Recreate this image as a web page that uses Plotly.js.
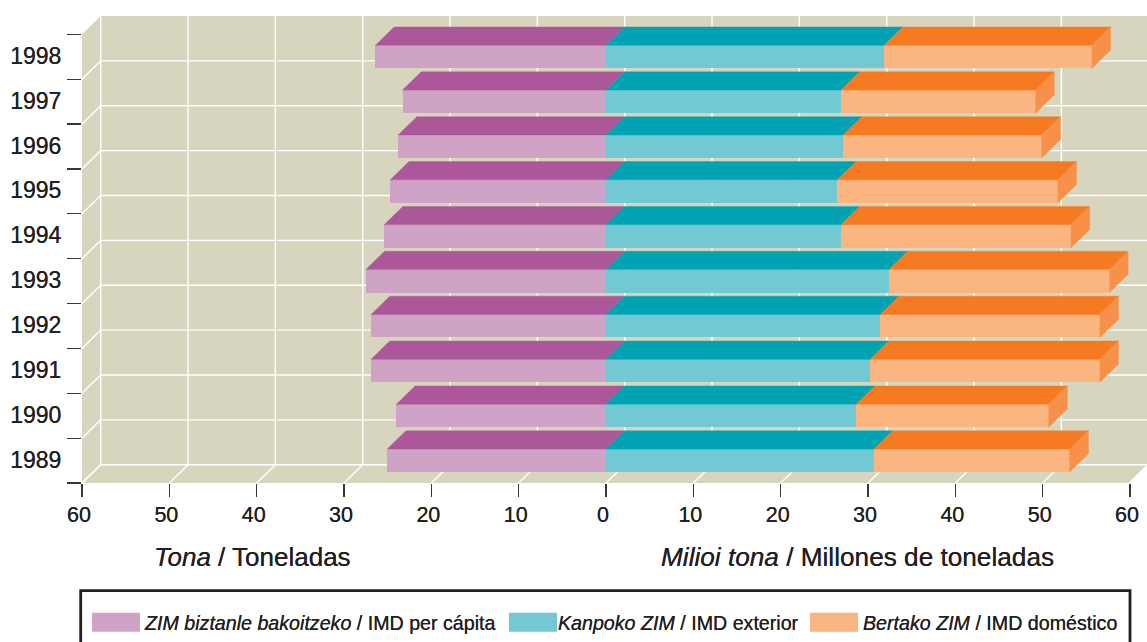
<!DOCTYPE html>
<html>
<head>
<meta charset="utf-8">
<script src="https://cdn.plot.ly/plotly-3.0.1.min.js"></script>
<style>html,body{margin:0;padding:0;background:#fff;overflow:hidden}#chart{width:1147px;height:642px}</style>
</head>
<body>
<div id="chart"></div>
<script>
// Yearly material consumption, 1989-1998, oldest year at the bottom.
const years = ['1989','1990','1991','1992','1993','1994','1995','1996','1997','1998'];
const perCapita = [25.05, 24.0, 26.9, 26.9, 27.5, 25.4, 24.7, 23.8, 23.3, 26.4];
const exterior  = [30.7, 28.65, 30.25, 31.4, 32.4, 26.9, 26.5, 27.15, 26.9, 31.85];
const domestic  = [22.4, 22.05, 26.3, 25.15, 25.25, 26.35, 25.25, 22.75, 22.3, 23.8];
const xTicks = [-60,-50,-40,-30,-20,-10,0,10,20,30,40,50,60];
const xTickLabels = ['60','50','40','30','20','10','0','10','20','30','40','50','60'];

const seriesLabels = [
  '<i>ZIM biztanle bakoitzeko</i> / IMD per cápita',
  '<i>Kanpoko ZIM</i> / IMD exterior',
  '<i>Bertako ZIM</i> / IMD doméstico'
];
const leftTitle = '<i>Tona</i> / Toneladas';
const rightTitle = '<i>Milioi tona</i> / Millones de toneladas';

const colors = {
  wall: '#d8d5bf', grid: '#ffffff', ink: '#231f20',
  pinkFront: '#cfa3c6', pinkTop: '#ab5799',
  tealFront: '#72c8d3', tealTop: '#00a3b2',
  orangeFront: '#fbb581', orangeTop: '#f57a22', orangeSide: '#f79149'
};
// Slight thickening of the text strokes, for a medium-weight look.
const textWeight = '0 0 0.6px #231f20';

// Page geometry of the plotting box.
const W = 1147, H = 642;
const M = {l: 82, r: 0, t: 16, b: 159};
const plotW = W - M.l - M.r, plotH = H - M.t - M.b;
const unitPx = (1130 - 82) / 120;           // pixels per x unit
const xMin = -60, xMax = xMin + plotW / unitPx;

// Oblique projection: depth offsets, in axis units.
const DEPTH_PX_Y = 18.3, DEPTH_X = 18.7 / unitPx;
const yPitch = (plotH - DEPTH_PX_Y) / years.length;
const DEPTH_Y = DEPTH_PX_Y / yPitch;
const BAR_H = 23 / yPitch;
const yMin = -0.5, yTop = years.length - 0.5, yMax = yTop + DEPTH_Y;

const yIdx = years.map((_, i) => i);
const bounds = years.map((_, i) => i - 0.5).concat([yTop]);

// Converters from page pixels to paper fractions, for the key below the plot.
const px = v => (v - M.l) / plotW;
const py = v => (H - M.b - v) / plotH;

// Builds the slanted top face of each bar segment as one filled polygon trace.
function topFace(starts, ends, color) {
  const xs = [], ys = [];
  yIdx.forEach(i => {
    const f = i + BAR_H / 2;
    xs.push(starts[i], ends[i], ends[i] + DEPTH_X, starts[i] + DEPTH_X, starts[i], null);
    ys.push(f, f, f + DEPTH_Y, f + DEPTH_Y, f, null);
  });
  return {type: 'scatter', mode: 'lines', x: xs, y: ys, fill: 'toself', fillcolor: color,
          line: {color: color, width: 0.4}, hoverinfo: 'skip'};
}
// Right-hand end cap of the stack.
function sideFace(ends, color) {
  const xs = [], ys = [];
  yIdx.forEach(i => {
    const f = i + BAR_H / 2, b = i - BAR_H / 2;
    xs.push(ends[i], ends[i] + DEPTH_X, ends[i] + DEPTH_X, ends[i], ends[i], null);
    ys.push(f, f + DEPTH_Y, b + DEPTH_Y, b, f, null);
  });
  return {type: 'scatter', mode: 'lines', x: xs, y: ys, fill: 'toself', fillcolor: color,
          line: {color: color, width: 0.4}, hoverinfo: 'skip'};
}
function frontBar(values, color) {
  return {type: 'bar', orientation: 'h', y: yIdx, x: values, width: BAR_H,
          marker: {color: color, line: {width: 0}}, hoverinfo: 'skip'};
}

const zeros = years.map(() => 0);
const left = perCapita.map(v => -v);
const total = exterior.map((v, i) => v + domestic[i]);

const traces = [
  frontBar(left, colors.pinkFront),
  frontBar(exterior, colors.tealFront),
  frontBar(domestic, colors.orangeFront),
  topFace(left, zeros, colors.pinkTop),
  topFace(zeros, exterior, colors.tealTop),
  topFace(exterior, total, colors.orangeTop),
  sideFace(total, colors.orangeSide)
];

// Box walls and their white rules, all in axis units.
const wallFill = {fillcolor: colors.wall, line: {width: 0}, layer: 'below', xref: 'x', yref: 'y'};
const rule = (x0, y0, x1, y1) => ({type: 'line', x0, y0, x1, y1, xref: 'x', yref: 'y', layer: 'below',
                                   line: {color: colors.grid, width: 1.4}});
const xl = xTicks[0], xb = xl + DEPTH_X, yb = yMin + DEPTH_Y;
const shapes = [
  Object.assign({type: 'rect', x0: xb, x1: xMax, y0: yb, y1: yMax}, wallFill),
  Object.assign({type: 'path', path: `M${xl},${yMin} L${xl},${yTop} L${xb},${yMax} L${xb},${yb} Z`}, wallFill),
  Object.assign({type: 'path', path: `M${xl},${yMin} L${xb},${yb} L${xMax},${yb} L${xMax - DEPTH_X},${yMin} Z`}, wallFill)
];
xTicks.forEach(t => {
  shapes.push(rule(t, yMin, t + DEPTH_X, yb));
  shapes.push(rule(t + DEPTH_X, yb, t + DEPTH_X, yMax));
});
bounds.slice(0, -1).forEach(b => {
  shapes.push(rule(xl, b, xb, b + DEPTH_Y));
  shapes.push(rule(xb, b + DEPTH_Y, xMax, b + DEPTH_Y));
});

// Key frame: its lower edge runs off the page.
shapes.push({type: 'rect', xref: 'paper', yref: 'paper', x0: px(80.7), x1: px(1130), y0: py(660), y1: py(590.7),
             line: {color: colors.ink, width: 2.8}, fillcolor: 'rgba(0,0,0,0)', layer: 'above'});

const swatchX = [92, 509, 810];
const labelX = [141.5, 556, 860.5];
const swatchColors = [colors.pinkFront, colors.tealFront, colors.orangeFront];
swatchX.forEach((x, i) => shapes.push({type: 'rect', xref: 'paper', yref: 'paper', x0: px(x), x1: px(x + 48),
  y0: py(631.7), y1: py(612.7), fillcolor: swatchColors[i], line: {width: 0}, layer: 'above'}));

const text = (t, x, y, size, anchor) => ({text: t, xref: 'paper', yref: 'paper', x: px(x), y: py(y),
  xanchor: anchor, yanchor: 'middle', showarrow: false, font: {size, color: colors.ink, shadow: textWeight}});
const annotations = [
  text(leftTitle, 252.5, 556.5, 26, 'center'),
  text(rightTitle, 857, 556.5, 26.2, 'center')
].concat(seriesLabels.map((s, i) => text(s, labelX[i], 622.5, 19.65, 'left')));

const layout = {
  width: W, height: H, margin: {l: M.l, r: M.r, t: M.t, b: M.b, pad: 0},
  paper_bgcolor: '#ffffff', plot_bgcolor: '#ffffff',
  font: {family: '"Liberation Sans", Arial, sans-serif', color: colors.ink},
  barmode: 'relative', bargap: 0, showlegend: false, hovermode: false,
  shapes, annotations,
  xaxis: {range: [xMin, xMax], tickmode: 'array', tickvals: xTicks, ticktext: xTickLabels,
          showgrid: false, zeroline: false, showline: false, ticks: 'outside', ticklen: 13,
          tickwidth: 1.2, tickcolor: '#3a3738', tickfont: {size: 21.5, color: colors.ink, shadow: textWeight},
          ticklabelshift: -3, ticklabelstandoff: -1},
  yaxis: {range: [yMin, yMax], tickmode: 'array', tickvals: yIdx, ticktext: years,
          showgrid: false, zeroline: false, showline: false, ticks: 'outside', ticklen: 15,
          tickcolor: 'rgba(0,0,0,0)', tickfont: {size: 23, color: colors.ink, shadow: textWeight},
          ticklabelshift: -1,
          minor: {tickmode: 'array', tickvals: bounds, ticks: 'outside', ticklen: 14, tickwidth: 1.2, tickcolor: '#3a3738', showgrid: false}}
};

Plotly.newPlot('chart', traces, layout, {staticPlot: true, displayModeBar: false});
</script>
</body>
</html>
